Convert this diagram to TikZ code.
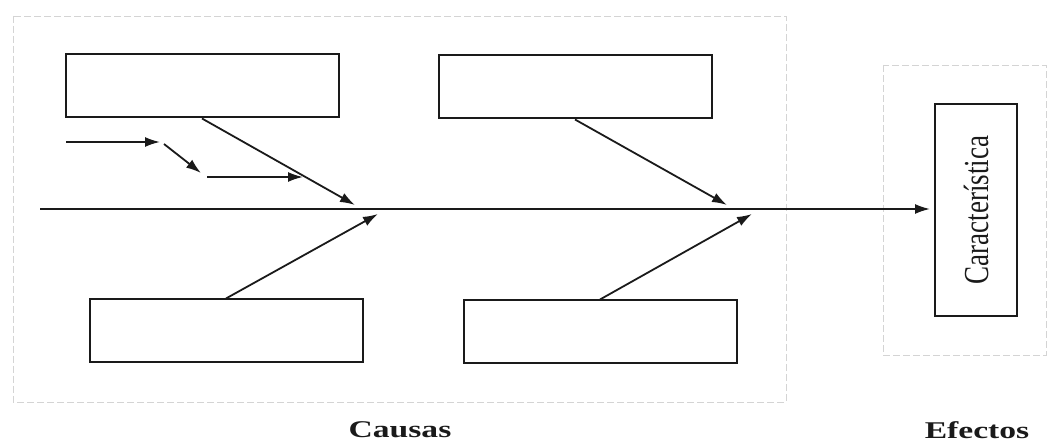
\documentclass[tikz,border=0pt]{standalone}
\usepackage{fontspec}
\setmainfont{Liberation Serif}
\usepackage{xcolor}
\usepackage{tikz}
\usetikzlibrary{calc,positioning,arrows.meta}
\usepackage{graphicx}
\definecolor{inkmain}{HTML}{1A1A1A}
\definecolor{framegray}{HTML}{D4D4D4}

\begin{document}
\begin{tikzpicture}[
  x=1pt, y=1pt,
  causebox/.style={
    rectangle, draw=inkmain, line width=2pt,
    minimum width=273pt, minimum height=63pt,
    inner sep=0pt,
  },
  effectbox/.style={
    rectangle, draw=inkmain, line width=2pt,
    minimum width=82pt, minimum height=212pt,
    inner sep=0pt,
  },
  causearrow/.style={
    draw=inkmain, line width=1.8pt,
    -{Latex[length=15pt,width=10pt]},
  },
  framebox/.style={
    draw=framegray, line width=0.9pt,
    dash pattern=on 7pt off 3pt,
  },
  biglabel/.style={
    inkmain, inner sep=0pt,
  },
]

\useasboundingbox (0,0) rectangle (1049,444);

\draw[framebox] (13,428) rectangle (786,42);
\draw[framebox] (883,379) rectangle (1046,89);

\node[causebox] (tl) at (202,358) {};
\node[causebox] (tr) at (575,357) {};
\node[causebox] (bl) at (226,113) {};
\node[causebox] (br) at (600,112) {};

\node[effectbox] (car) at (976,234) {
  \scalebox{1.3}[1]{\rotatebox{90}{\fontsize{27}{30}\selectfont\color{inkmain}Característica}}
};

\coordinate (spine) at (40,235);
\coordinate (j1) at (355,239);
\coordinate (j2) at (378,230);
\coordinate (j3) at (727,239);
\coordinate (j4) at (752,230);

\draw[causearrow, shorten >=4pt] (spine) -- (car.west |- spine);
\draw[causearrow] (tl.south) -- (j1);
\draw[causearrow] (bl.north) -- (j2);
\draw[causearrow] (tr.south) -- (j3);
\draw[causearrow] (br.north) -- (j4);

\coordinate (s1) at (66,302);
\coordinate (s2) at (160,302);
\coordinate (s3) at (164,300);
\coordinate (s4) at (201,271);
\coordinate (s5) at (207,267);
\coordinate (s6) at (303,267);

\draw[causearrow] (s1) -- (s2);
\draw[causearrow] (s3) -- (s4);
\draw[causearrow] (s5) -- (s6);

\node[biglabel] (causas) at (400,14) {
  \scalebox{1.4}[1]{\fontsize{24}{28}\selectfont\bfseries Causas}
};
\node[biglabel] (efectos) at (977,14) {
  \scalebox{1.4}[1]{\fontsize{24}{28}\selectfont\bfseries Efectos}
};

\end{tikzpicture}
\end{document}
